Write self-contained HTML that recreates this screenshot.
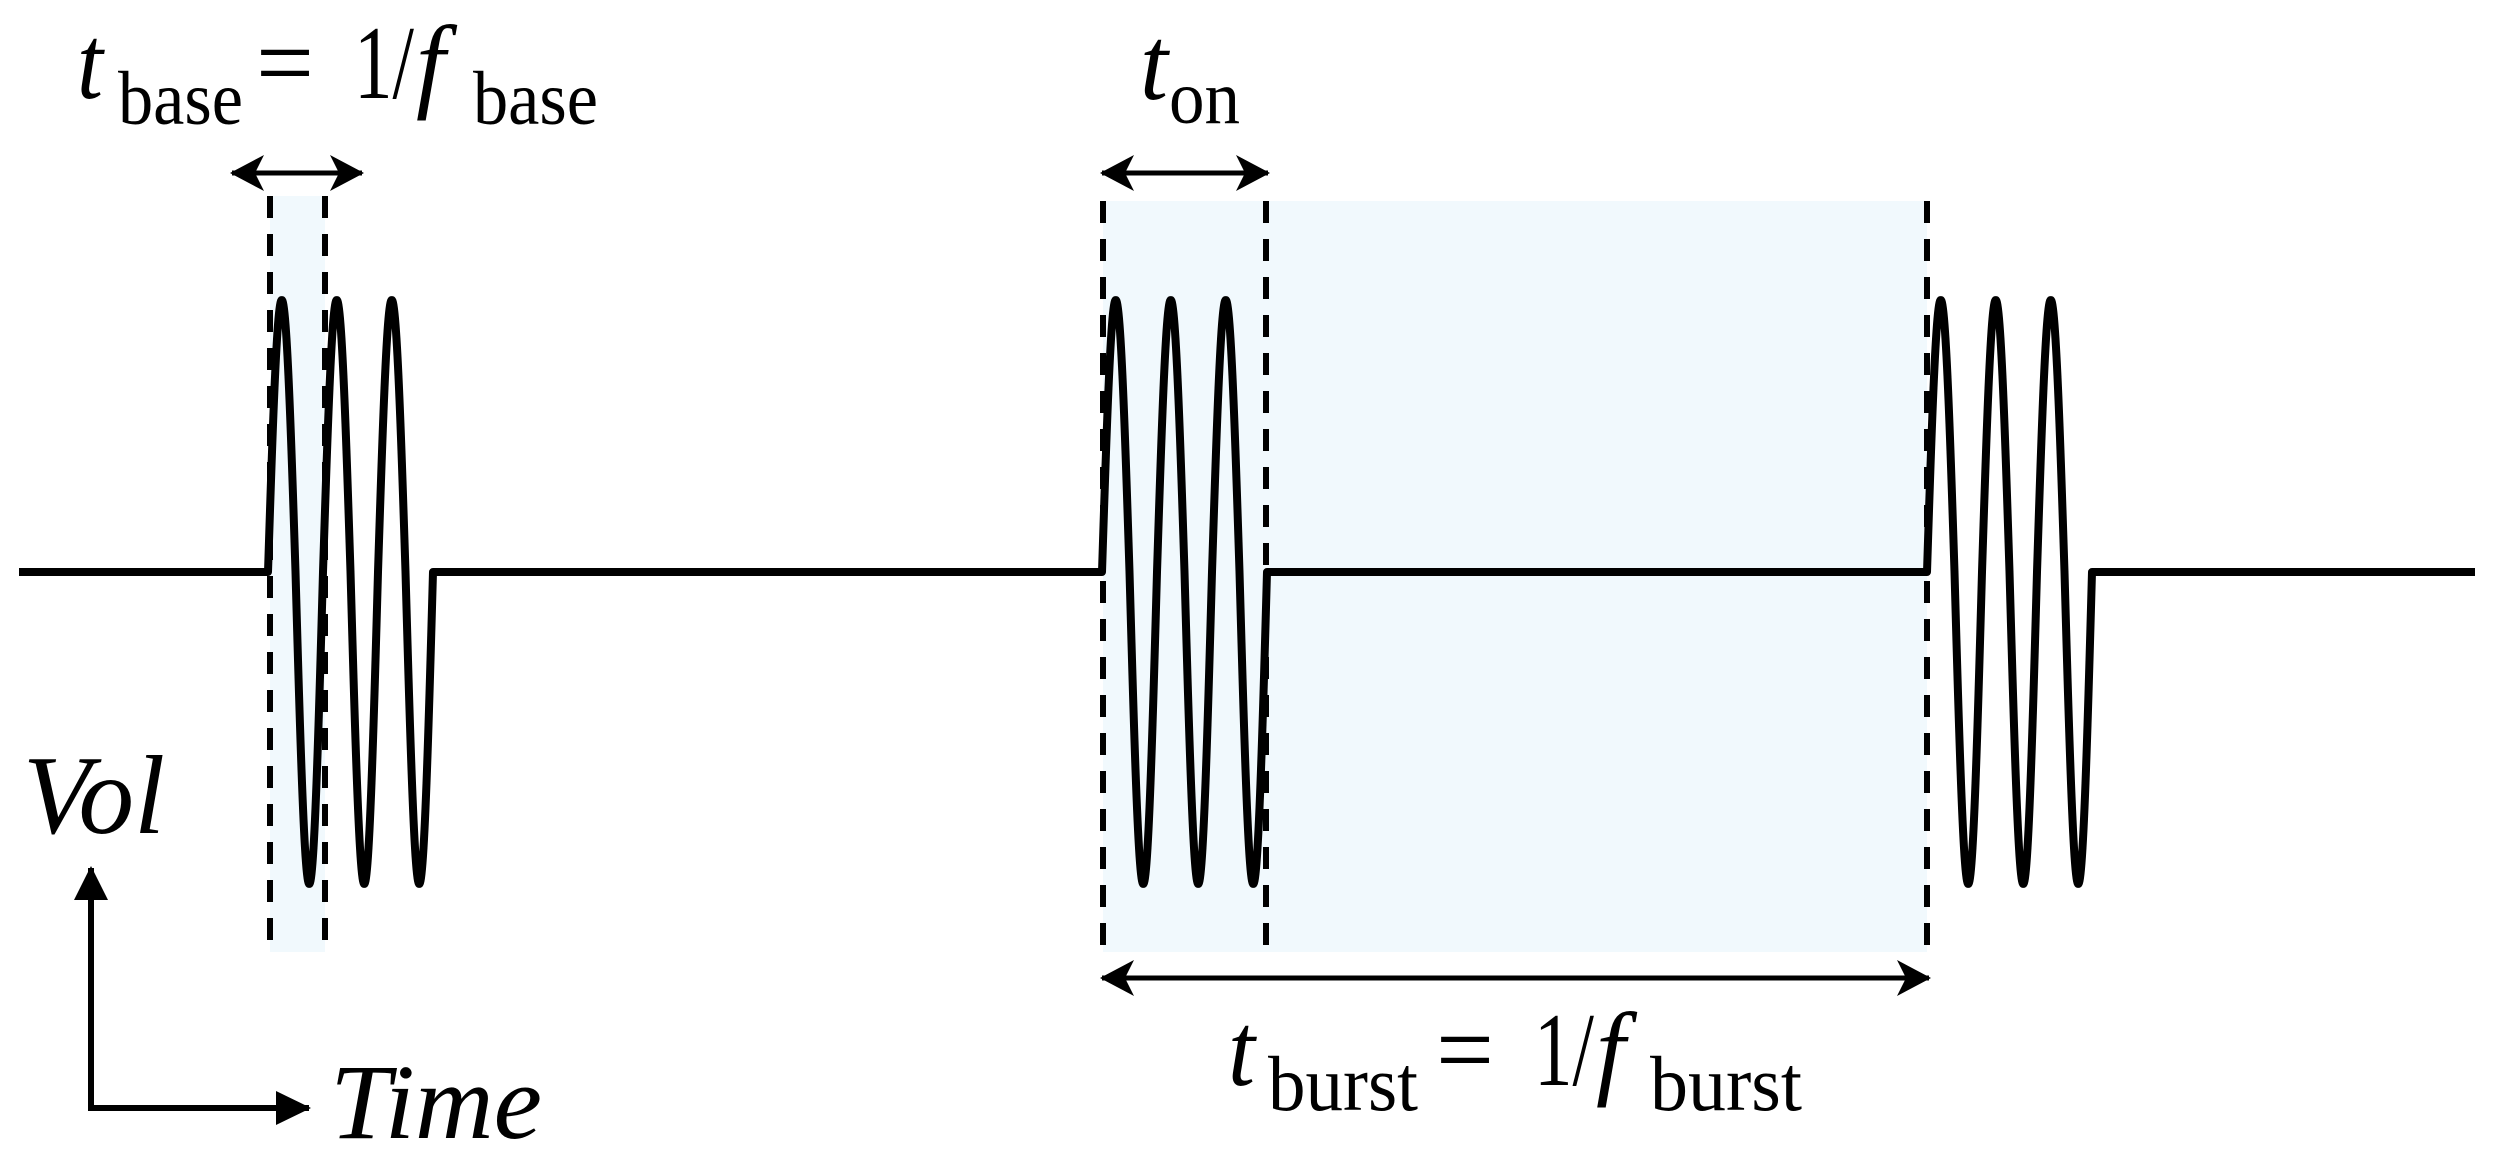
<!DOCTYPE html>
<html><head><meta charset="utf-8">
<style>
html,body{margin:0;padding:0;background:#fff;}
svg{display:block;}
text{font-family:"Liberation Serif","Times New Roman",serif;fill:#000;}
</style></head>
<body>
<svg id="s" width="2499" height="1170" viewBox="0 0 2499 1170" xmlns="http://www.w3.org/2000/svg">
<defs>
<marker id="ah" viewBox="0 0 34 36" markerWidth="34" markerHeight="36" refX="32" refY="18" orient="auto-start-reverse" markerUnits="userSpaceOnUse">
<path d="M0,0 L34,18 L0,36 L9,18 Z" fill="#000"/>
</marker>
</defs>
<rect x="270" y="196" width="55" height="756" fill="#f1f9fd"/>
<rect x="1103" y="201" width="824" height="751" fill="#f1f9fd"/>
<path id="wave" d="" fill="none" stroke="#000" stroke-width="8" stroke-linejoin="round"/>
<g stroke="#000" stroke-width="6" stroke-dasharray="22,16">
<line x1="270" y1="196" x2="270" y2="952"/>
<line x1="325" y1="196" x2="325" y2="952"/>
<line x1="1103" y1="201" x2="1103" y2="952"/>
<line x1="1266" y1="201" x2="1266" y2="952"/>
<line x1="1927" y1="201" x2="1927" y2="952"/>
</g>
<g stroke="#000" stroke-width="5">
<line x1="232" y1="173" x2="362" y2="173" marker-start="url(#ah)" marker-end="url(#ah)"/>
<line x1="1102" y1="173" x2="1268" y2="173" marker-start="url(#ah)" marker-end="url(#ah)"/>
<line x1="1102" y1="978" x2="1929" y2="978" marker-start="url(#ah)" marker-end="url(#ah)"/>
</g>
<g stroke="#000" stroke-width="6" fill="none">
<polyline points="91,868 91,1108 309,1108"/>
</g>
<path d="M91,866 L108,900 L74,900 Z" fill="#000"/>
<path d="M311,1108 L276,1091 L276,1125 Z" fill="#000"/>

<text x="77" y="98" font-size="105" font-style="italic" textLength="26" lengthAdjust="spacingAndGlyphs">t</text>
<text x="118" y="124" font-size="76" textLength="125" lengthAdjust="spacingAndGlyphs">base</text>
<text x="256" y="98" font-size="105" textLength="58" lengthAdjust="spacingAndGlyphs">=</text>
<text x="354" y="98" font-size="105" textLength="60" lengthAdjust="spacingAndGlyphs">1/</text>
<text x="416" y="98" font-size="105" font-style="italic">f</text>
<text x="473" y="124" font-size="76" textLength="125" lengthAdjust="spacingAndGlyphs">base</text>

<text x="1140" y="99" font-size="105" font-style="italic" textLength="28" lengthAdjust="spacingAndGlyphs">t</text>
<text x="1169" y="123" font-size="76" textLength="71" lengthAdjust="spacingAndGlyphs">on</text>

<text x="1228" y="1085" font-size="105" font-style="italic" textLength="27" lengthAdjust="spacingAndGlyphs">t</text>
<text x="1268" y="1110" font-size="78" textLength="150" lengthAdjust="spacingAndGlyphs">burst</text>
<text x="1436" y="1085" font-size="105" textLength="58" lengthAdjust="spacingAndGlyphs">=</text>
<text x="1534" y="1085" font-size="105" textLength="60" lengthAdjust="spacingAndGlyphs">1/</text>
<text x="1596" y="1085" font-size="105" font-style="italic">f</text>
<text x="1650" y="1110" font-size="78" textLength="152" lengthAdjust="spacingAndGlyphs">burst</text>

<text x="23" y="833" font-size="112" font-style="italic" textLength="142" lengthAdjust="spacingAndGlyphs">Vol</text>
<text x="330" y="1138" font-size="107" font-style="italic" textLength="212" lengthAdjust="spacingAndGlyphs">Time</text>
</svg>
<script>
(function(){
  var B=572, up=272, dn=312, P=55;
  var starts=[268,1102,1927];
  var d="M19,"+B;
  starts.forEach(function(x0){
    d+=" L"+x0+","+B;
    for(var i=0;i<=330;i++){
      var x=x0+i*(3*P)/330;
      var th=2*Math.PI*(x-x0)/P;
      var s=Math.sin(th);
      var y=B-(s>0?up:dn)*s;
      d+=" L"+x.toFixed(2)+","+y.toFixed(2);
    }
    d+=" L"+(x0+3*P)+","+B;
  });
  d+=" L2475,"+B;
  document.getElementById("wave").setAttribute("d",d);
})();
</script>
</body></html>
